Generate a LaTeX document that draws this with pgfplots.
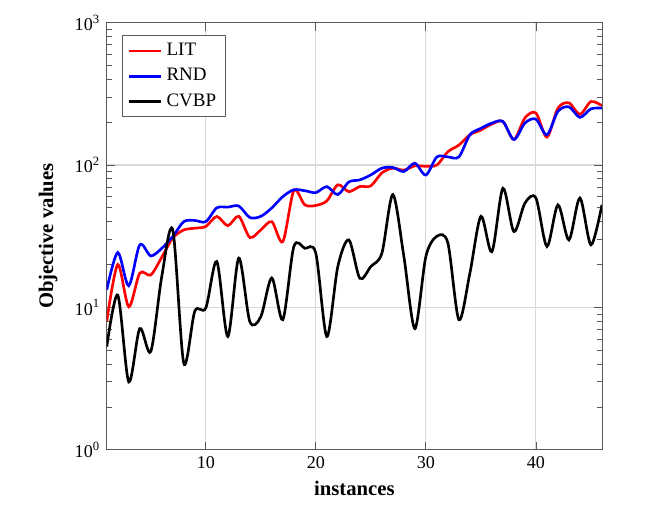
\documentclass[border=0pt]{standalone}
\usepackage{fontspec}
\setmainfont{Liberation Serif}
\usepackage{pgfplots}
\usepackage{pgfplotstable}
\pgfplotsset{compat=1.18}
\pgfplotstableread{
i LIT RND CVBP
1 8.0 13.3 5.3
2 20 24.3 12.2
3 10.1 14.2 3.0
4 17.4 27.5 7.1
5 16.9 23 4.9
6 22.5 26 16.5
7 30.7 31.5 35
8 35 40 4.06
9 36 40.8 9.4
10 37 40 9.9
11 43.5 50 21
12 37.5 50.6 6.25
13 43.6 51.5 22.2
14 31 42.8 7.96
15 35 43.6 8.6
16 40 50 16.1
17 29 60 8.2
18 66 67 26.7
19 52.5 66 26
20 52 64 24
21 56 70.5 6.25
22 72.6 62 19.4
23 65 76 29.8
24 70.6 78.6 16
25 71.4 85.2 19.4
26 88 95 24
27 95 96 62
28 92 90 22.8
29 98.6 103 7.1
30 98 85 22.8
31 100 114 31.6
32 124 114 28.3
33 138 114 8.2
34 163 163 17.4
35 176 181 43.6
36 194 197 24.6
37 202 202 68.6
38 151 151 34.1
39 214 197 54
40 232 210 58.6
41 157 163 26.8
42 251 238 52.5
43 273 256 29.8
44 227 216 58.6
45 279 248 27.5
46 261 251 52.5
}\datatable
\begin{document}
\begin{tikzpicture}
\useasboundingbox (-56.2pt,-37.4pt) rectangle (286.0pt,236.8pt);
\begin{axis}[
  at={(0,0)}, anchor=south west,
  scale only axis, width=260.7pt, height=224.9pt,
  ymode=log, xmin=1, xmax=46, ymin=1, ymax=1000,
  xtick={10,20,30,40},
  ytick={1,10,100,1000},
  yticklabels={10\textsuperscript{0},10\textsuperscript{1},10\textsuperscript{2},10\textsuperscript{3}},
  /pgf/number format/assume math mode=true,
  tick label style={font=\fontsize{9.5}{11}\selectfont},
  grid=major,
  major grid style={line width=0.6pt, black!15},
  axis line style={black!65},
  every tick/.style={black!65},
  xlabel={\textbf{instances}},
  ylabel={\textbf{Objective values}},
  label style={font=\fontsize{10.9}{13}\selectfont},
  xlabel style={at={(axis description cs:0.5,-0.091)}, anchor=center},
  ylabel style={at={(axis description cs:-0.1185,0.5)}, anchor=center},
  legend style={at={(0.03,0.97)}, anchor=north west, draw=black!65,
    font=\fontsize{10}{12}\selectfont, row sep=1.2pt},
  legend cell align=left,
]
\addplot[red, line width=1.4pt, smooth] table[x=i, y=LIT] {\datatable};
\addlegendentry{LIT}
\addplot[blue, line width=1.4pt, smooth] table[x=i, y=RND] {\datatable};
\addlegendentry{RND}
\addplot[black, line width=1.4pt, smooth] table[x=i, y=CVBP] {\datatable};
\addlegendentry{CVBP}
\end{axis}
\end{tikzpicture}
\end{document}
